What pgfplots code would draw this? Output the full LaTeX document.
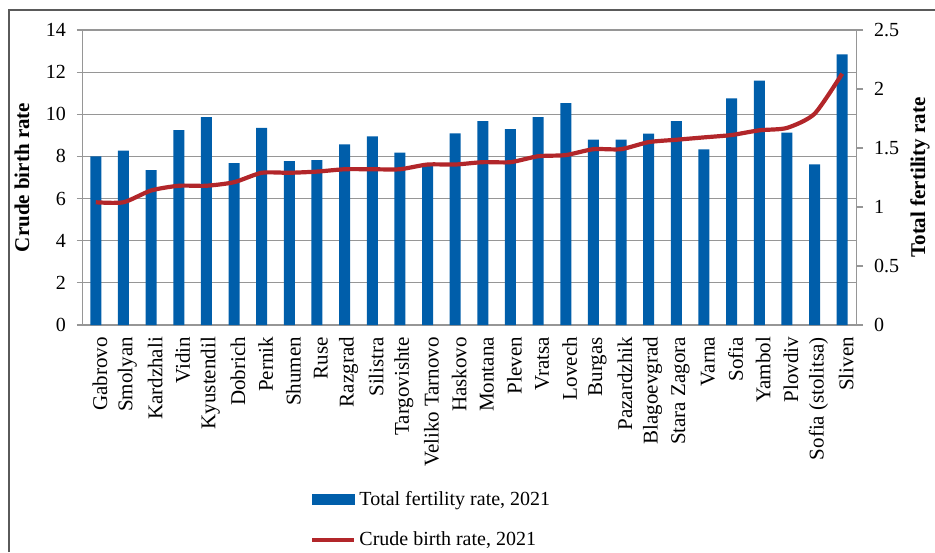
\documentclass[border=0pt]{standalone}
\usepackage{fontspec}
\setmainfont{Liberation Serif}
\usepackage{pgfplots}
\pgfplotsset{compat=1.18}
\definecolor{barblue}{RGB}{0,94,170}
\definecolor{linered}{RGB}{178,38,42}
\definecolor{gridgray}{RGB}{150,150,150}
\definecolor{framegray}{RGB}{90,90,90}
\begin{document}
\begin{tikzpicture}
\pgfplotsset{
  common/.style={
    scale only axis, width=387pt, height=147.5pt,
    at={(0pt,0pt)}, anchor=south west,
    xmin=-0.5, xmax=27.5,
    /pgf/number format/assume math mode=true,
    tick label style={font=\fontsize{10}{12}\selectfont},
    label style={font=\fontsize{10.5}{12}\selectfont\bfseries},
  }
}
\begin{axis}[common,
  ymin=0, ymax=14, ytick={0,2,...,14},
  axis line style={gridgray},
  ymajorgrids, grid style={gridgray, line width=0.6pt},
  ytick pos=left, xtick pos=bottom,
  tick align=outside,
  major tick length=2.5pt,
  ytick style={gridgray, line width=0.6pt},
  xtick style={draw=none},
  yticklabel style={xshift=-2pt},
  xtick={0,...,27},
  xticklabels={Gabrovo,Smolyan,Kardzhali,Vidin,Kyustendil,Dobrich,Pernik,Shumen,Ruse,Razgrad,Silistra,Targovishte,Veliko Tarnovo,Haskovo,Montana,Pleven,Vratsa,Lovech,Burgas,Pazardzhik,Blagoevgrad,Stara Zagora,Varna,Sofia,Yambol,Plovdiv,Sofia (stolitsa),Sliven},
  xticklabel style={rotate=90, anchor=east, font=\fontsize{10.5}{12}\selectfont, yshift=-2pt},
  ylabel={Crude birth rate},
  ylabel style={at={(axis description cs:-0.0775,0.5)}, anchor=center},
]
\addplot[ybar, bar width=5.5pt, fill=barblue, draw=none, forget plot] coordinates {
(0,8.0) (1,8.27) (2,7.35) (3,9.25) (4,9.87) (5,7.68) (6,9.35) (7,7.78) (8,7.83) (9,8.57)
(10,8.95) (11,8.18) (12,7.55) (13,9.1) (14,9.68) (15,9.3) (16,9.87) (17,10.53) (18,8.8) (19,8.8)
(20,9.08) (21,9.68) (22,8.33) (23,10.75) (24,11.6) (25,9.13) (26,7.62) (27,12.84)};
\end{axis}
\begin{axis}[common,
  ymin=0, ymax=2.5, ytick={0,0.5,...,2.5},
  axis x line=none, axis y line*=right,
  axis line style={gridgray},
  tick align=outside, major tick length=3.5pt,
  ytick style={gridgray, line width=0.6pt},
  yticklabel style={xshift=2pt},
  ylabel={Total fertility rate},
  ylabel style={at={(axis description cs:1.0827,0.5)}, anchor=center, rotate=0},
  legend style={draw=none, fill=none, at={(axis description cs:0.2946,-0.555)}, anchor=north west,
    font=\fontsize{10}{12}\selectfont, row sep=9.5pt, inner sep=0pt,
    nodes={inner xsep=1.5pt, inner ysep=1pt}},
  legend cell align=left,
]
\addlegendimage{legend image code/.code={\fill[barblue] (0pt,-2.5pt) rectangle (21pt,2.5pt);}}
\addlegendentry{Total fertility rate, 2021}
\addplot[linered, line width=2.1pt, smooth, tension=0.4, legend image code/.code={\draw[linered, line width=2pt] (0pt,0pt) -- (21pt,0pt);}] coordinates {
(0,1.04) (1,1.04) (2,1.14) (3,1.18) (4,1.18) (5,1.21) (6,1.29) (7,1.29) (8,1.30) (9,1.32)
(10,1.32) (11,1.32) (12,1.36) (13,1.36) (14,1.38) (15,1.38) (16,1.43) (17,1.44) (18,1.49) (19,1.49)
(20,1.55) (21,1.57) (22,1.59) (23,1.61) (24,1.65) (25,1.67) (26,1.79) (27,2.13)};
\addlegendentry{Crude birth rate, 2021}
\end{axis}
\draw[framegray, line width=1pt] (-36.5pt,-113.5pt) -- (-36.5pt,157.5pt) -- (426.5pt,157.5pt);
\pgfresetboundingbox
\useasboundingbox (-41pt,-113.5pt) rectangle (426.5pt,162.5pt);
\end{tikzpicture}
\end{document}
